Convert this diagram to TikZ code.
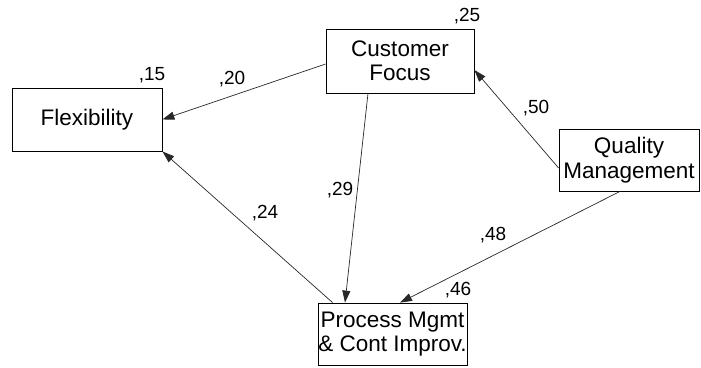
\documentclass[tikz,border=0pt]{standalone}
\usepackage{fontspec}
\setmainfont{Liberation Sans}
\usepackage{tikz}
\usetikzlibrary{arrows.meta, positioning}
\definecolor{pathgray}{RGB}{40, 40, 40}

\begin{document}
\begin{tikzpicture}[x=1pt, y=-1pt,
  construct/.style={draw=black, line width=0.8pt, align=center, inner sep=0pt,
    font=\fontsize{22.5}{24.5}\selectfont},
  path/.style={pathgray, line width=0.7pt, -{Triangle[length=12pt, width=8pt]}},
  coef/.style={font=\fontsize{19}{20}\selectfont, inner sep=0pt}]
  \useasboundingbox (0,0) rectangle (701,367);

  % Constructs
  \node[construct, minimum width=150pt, minimum height=63pt] (flex) at (87,119.5) {Flexibility};
  \node[construct, minimum width=148pt, minimum height=64pt] (cf) at (400,61) {Customer\\Focus};
  \node[construct, minimum width=140pt, minimum height=62pt] (qm) at (629,160) {Quality\\Management};
  \node[construct, minimum width=149pt, minimum height=62pt] (pm) at (392.5,334) {Process Mgmt\\\& Cont Improv.};

  % Paths
  \draw[path] ([yshift=-3pt]cf.west) -- (flex.east);
  \draw[path] ([yshift=-8pt]qm.west) -- ([yshift=-9pt]cf.east);
  \draw[path] ([xshift=-32pt]cf.south) -- ([xshift=-47.5pt]pm.north);
  \draw[path] ([xshift=-9pt]qm.south) -- ([xshift=7.5pt]pm.north);
  \draw[path] ([xshift=15pt]pm.north west) -- (flex.south east);

  % Squared multiple correlations
  \node[coef] (r2flex) at (152,75) {,15};
  \node[coef] (r2cf) at (467,16) {,25};
  \node[coef] (r2pm) at (458,290) {,46};

  % Path coefficients
  \node[coef] (bcfflex) at (232,79) {,20};
  \node[coef] (bqmcf) at (536,108) {,50};
  \node[coef] (bcfpm) at (340,190) {,29};
  \node[coef] (bpmflex) at (265,213) {,24};
  \node[coef] (bqmpm) at (493,235) {,48};
\end{tikzpicture}
\end{document}
